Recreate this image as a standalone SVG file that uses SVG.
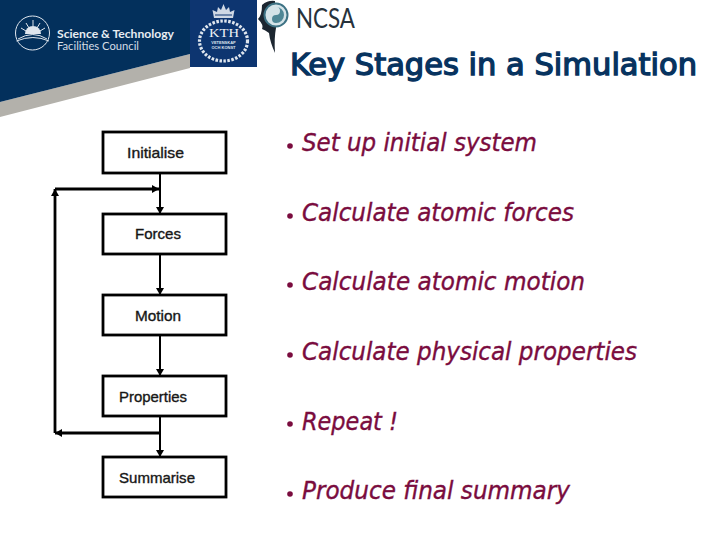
<svg xmlns="http://www.w3.org/2000/svg" width="720" height="540" viewBox="0 0 720 540">
<defs>
<style>
.box{fill:#fff;stroke:#000;stroke-width:2.8}
.lbl{font-family:"Liberation Sans",Arial,sans-serif;font-size:14.500px;fill:#111;stroke:#222;stroke-width:.35}
.it{font-family:"DejaVu Sans",Verdana,sans-serif;font-style:italic;font-stretch:condensed;font-size:25px;fill:#7a0c3e;stroke:#7a0c3e;stroke-width:.35}
.dot{fill:#7a0c3e}
.c{fill:none;stroke:#000;stroke-width:2}
.c2{fill:none;stroke:#000;stroke-width:2.800}
</style>
<marker id="a" markerWidth="9" markerHeight="9" refX="7" refY="4" orient="auto" markerUnits="userSpaceOnUse"><path d="M0,0L7,4L0,8Z" fill="#000"/></marker>
</defs>
<rect width="720" height="540" fill="#fff"/>
<g id="banner">
<path d="M0,102L190,54V68L0,117Z" fill="#b3b1ab"/>
<path d="M0,0H190V54L0,102Z" fill="#03305c"/>
<circle cx="32.500" cy="33" r="17" fill="none" stroke="#dfe6ee" stroke-width="1"/>
<path d="M18,39Q33,30 47,39M16.500,41Q33,34 49,41" fill="none" stroke="#dfe6ee" stroke-width="1"/>
<path d="M25,34A8,8 0 0 1 41,34Z" fill="#dfe6ee"/>
<path d="M33,20V26M26,23L29,28M40,23L37,28M21,28L26,31M45,28L40,31" stroke="#dfe6ee" stroke-width="1" fill="none"/>
<text x="57" y="38" font-family="Lato,'Open Sans',sans-serif" font-size="11" font-weight="700" fill="#e8edf2" textLength="117" lengthAdjust="spacingAndGlyphs">Science &amp; Technology</text>
<text x="57" y="50" font-family="Lato,'Open Sans',sans-serif" font-size="11" fill="#d5dde6" textLength="82" lengthAdjust="spacingAndGlyphs">Facilities Council</text>
</g>
<g id="kth">
<rect x="190" y="0" width="67" height="67" fill="#0d3570"/>
<ellipse cx="223.500" cy="41" rx="24" ry="20" fill="none" stroke="#dfe6ee" stroke-width="3.200" stroke-dasharray="2.500 1.500"/>
<path d="M214,18L212.500,10L217,12L218,7L221,10L223.500,4L226,10L229,7L230,12L234.500,10L233,18Z" fill="#cfd8e4"/>
<path d="M215,15H232" stroke="#0d3570" stroke-width="1"/>
<text x="209" y="36.500" font-family="'Liberation Serif',serif" font-size="13" fill="#eef2f6" textLength="30" lengthAdjust="spacingAndGlyphs">KTH</text>
<text x="223.500" y="43.500" text-anchor="middle" font-family="'Liberation Sans',sans-serif" font-size="4" font-weight="700" fill="#dfe6ee">VETENSKAP</text>
<text x="223.500" y="49" text-anchor="middle" font-family="'Liberation Sans',sans-serif" font-size="4" font-weight="700" fill="#dfe6ee">OCH KONST</text>
</g>
<g id="ncsa">
<path d="M262,5Q268,0 275,1L276,28Q274,38 275,53Q270,42 269,33Q265,30 262,29Q264,25 258,19Q262,15 262,5Z" fill="#1c2630"/>
<circle cx="276" cy="15" r="11.500" fill="#d4e3e8" stroke="#3d7284" stroke-width="2"/>
<path d="M276,7A4,4 0 0 1 276,15A4,4 0 0 0 276,23A8,8 0 0 0 276,7Z" fill="#4f8796"/>
<text x="296" y="28" font-family="Lato,'Open Sans',sans-serif" font-size="26" fill="#26323c" textLength="59" lengthAdjust="spacingAndGlyphs">NCSA</text>
</g>
<text id="title" x="290" y="75" font-family="'DejaVu Sans',Verdana,sans-serif" font-stretch="condensed" font-size="31" fill="#07335f" stroke="#07335f" stroke-width="1.300" textLength="407" lengthAdjust="spacingAndGlyphs">Key Stages in a Simulation</text>
<g id="connectors">
<path class="c" d="M160,173V214" marker-end="url(#a)"/>
<path class="c" d="M160,254V295" marker-end="url(#a)"/>
<path class="c" d="M160,335V376" marker-end="url(#a)"/>
<path class="c" d="M160,416V457" marker-end="url(#a)"/>
<path class="c2" d="M160,433H55" marker-end="url(#a)"/>
<path class="c2" d="M55,433V189" marker-end="url(#a)"/>
<path class="c2" d="M55,189H159" marker-end="url(#a)"/>
</g>
<g id="n1"><rect class="box" x="103" y="132" width="123" height="41"/><text class="lbl" x="127" y="158" textLength="57" lengthAdjust="spacingAndGlyphs">Initialise</text></g>
<g id="n2"><rect class="box" x="103" y="214" width="123" height="40"/><text class="lbl" x="135" y="239" textLength="46" lengthAdjust="spacingAndGlyphs">Forces</text></g>
<g id="n3"><rect class="box" x="103" y="295" width="123" height="40"/><text class="lbl" x="135" y="321" textLength="46" lengthAdjust="spacingAndGlyphs">Motion</text></g>
<g id="n4"><rect class="box" x="103" y="376" width="123" height="40"/><text class="lbl" x="119" y="402" textLength="68" lengthAdjust="spacingAndGlyphs">Properties</text></g>
<g id="n5"><rect class="box" x="103" y="457" width="123" height="40"/><text class="lbl" x="119" y="483" textLength="76" lengthAdjust="spacingAndGlyphs">Summarise</text></g>
<g id="bullets">
<circle class="dot" cx="290" cy="146" r="2.800"/><text class="it" x="302" y="151" textLength="235" lengthAdjust="spacingAndGlyphs">Set up initial system</text>
<circle class="dot" cx="290" cy="216" r="2.800"/><text class="it" x="302" y="221" textLength="272" lengthAdjust="spacingAndGlyphs">Calculate atomic forces</text>
<circle class="dot" cx="290" cy="285" r="2.800"/><text class="it" x="302" y="290" textLength="283" lengthAdjust="spacingAndGlyphs">Calculate atomic motion</text>
<circle class="dot" cx="290" cy="355" r="2.800"/><text class="it" x="302" y="360" textLength="335" lengthAdjust="spacingAndGlyphs">Calculate physical properties</text>
<circle class="dot" cx="290" cy="424" r="2.800"/><text class="it" x="302" y="430" textLength="96" lengthAdjust="spacingAndGlyphs">Repeat !</text>
<circle class="dot" cx="290" cy="494" r="2.800"/><text class="it" x="302" y="499" textLength="268" lengthAdjust="spacingAndGlyphs">Produce final summary</text>
</g>
</svg>
